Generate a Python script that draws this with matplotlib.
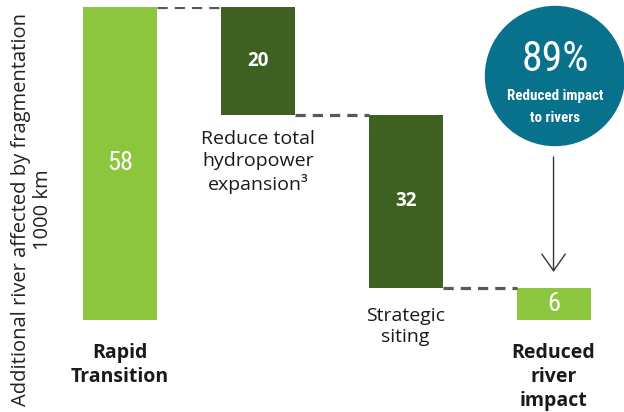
import matplotlib
matplotlib.use("Agg")
import matplotlib.pyplot as plt
from matplotlib.patches import Circle

# waterfall steps, 1000 km of river affected
labels = ["Rapid\nTransition", "Reduce total\nhydropower\nexpansion³", "Strategic\nsiting", "Reduced\nriver\nimpact"]
values = [58, 20, 32, 6]
kinds = ["total", "step", "step", "total"]
reduction_pct = 89

LIGHT = "#8cc63f"
DARK = "#3e6121"
TEAL = "#08718b"
TEXT = "#1a1a1a"
COND = ["Roboto Condensed", "Liberation Sans Narrow", "DejaVu Sans"]
BODY = ["Open Sans", "DejaVu Sans"]

xpos = [0, 0.95, 1.97, 2.99]
width = 0.51

W, H = 624, 412
fig = plt.figure(figsize=(W / 100, H / 100), dpi=100)
ax = fig.add_axes([0, 92 / H, 1, 313 / H])
ax.set_xlim(-0.828, 3.476)
ax.set_ylim(0, 58)
ax.axis("off")

# totals sit on the baseline, steps hang from the running level
level = values[0]
bottoms = []
for v, k in zip(values, kinds):
    if k == "total":
        bottoms.append(0)
    else:
        level -= v
        bottoms.append(level)
tops = [b + v for b, v in zip(bottoms, values)]

colors = [LIGHT if k == "total" else DARK for k in kinds]
ax.bar(xpos, values, width=width, bottom=bottoms, color=colors, edgecolor="none")

# dashed connectors at the shared level between neighbours
for i in range(len(values) - 1):
    y = bottoms[i] if kinds[i] == "step" else tops[i + 1]
    ax.plot([xpos[i] + width / 2, xpos[i + 1] - width / 2], [y, y],
            color="#595959", lw=2.3, ls=(0, (3.2, 2.2)), solid_capstyle="butt")

# value labels
for x, b, v, k in zip(xpos, bottoms, values, kinds):
    if k == "total":
        ax.text(x, b + v / 2, str(v), ha="center", va="center",
                color="white", fontsize=19, family=COND)
    else:
        ax.text(x, b + v / 2, str(v), ha="center", va="center",
                color="white", fontsize=13.5, fontweight="bold", family=BODY)

# category labels (anchored on the baseline of their last line)
ax.text(xpos[0], -11.5, labels[0], ha="center", va="baseline", fontsize=14,
        fontweight="bold", color=TEXT, family=BODY, linespacing=1.25)
ax.text(xpos[1], bottoms[1] - 13.9, labels[1], ha="center", va="baseline", fontsize=14,
        color=TEXT, family=BODY, linespacing=1.25)
ax.text(xpos[2], bottoms[2] - 10.1, labels[2], ha="center", va="baseline", fontsize=14,
        color=TEXT, family=BODY, linespacing=1.25)
ax.text(xpos[3], -15.9, labels[3], ha="center", va="baseline", fontsize=14,
        fontweight="bold", color=TEXT, family=BODY, linespacing=1.25)

# callout circle with the overall reduction
cx, cy, r = 555, 76, 69.5
circle = Circle((cx / 100, (H - cy) / 100), r / 100,
                transform=fig.dpi_scale_trans, color=TEAL, clip_on=False)
fig.patches.append(circle)
fig.text(cx / W, 1 - 71 / H, f"{reduction_pct}%", ha="center", va="baseline",
         color="white", fontsize=30, family=COND)
fig.text(cx / W, 1 - 100 / H, "Reduced impact", ha="center", va="baseline",
         color="white", fontsize=10.8, fontweight="bold", family=COND)
fig.text(cx / W, 1 - 122 / H, "to rivers", ha="center", va="baseline",
         color="white", fontsize=10.8, fontweight="bold", family=COND)

ax.annotate("", xy=(xpos[3], 8.9), xytext=(xpos[3], 30.2),
            arrowprops=dict(arrowstyle="->,head_length=0.6,head_width=0.42",
                            color="#333333", lw=1.0, mutation_scale=20,
                            shrinkA=0, shrinkB=0))

fig.text(32 / W, 1 - 210 / H, "Additional river affected by fragmentation\n1000 km",
         rotation=90, ha="center", va="center", fontsize=14.5, color="#222222",
         family=BODY, linespacing=1.12)

fig.savefig("out.png", dpi=100)
